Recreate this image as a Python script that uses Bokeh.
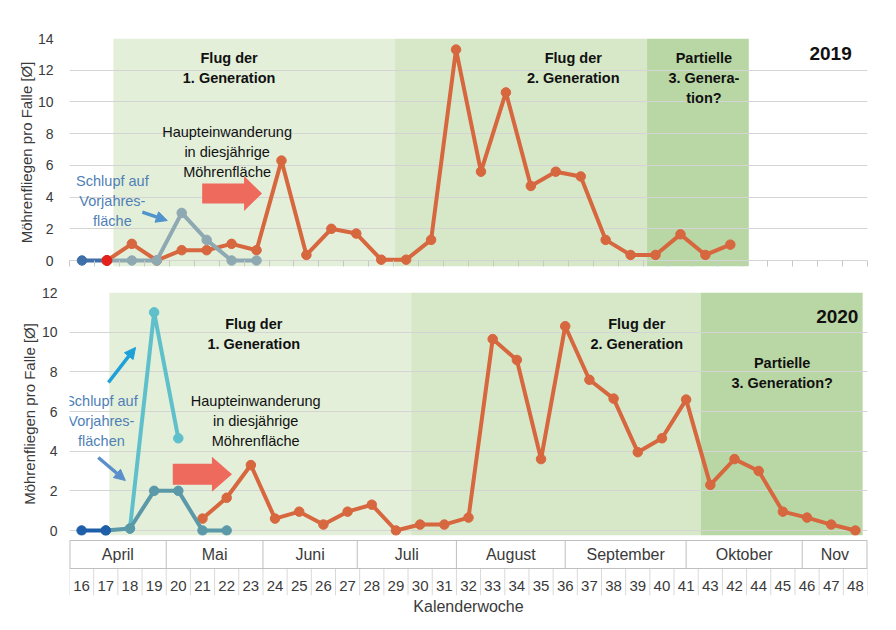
from bokeh.plotting import figure
from bokeh.layouts import column
from bokeh.models import Range1d, FixedTicker, Arrow, NormalHead, Label
from bokeh.embed import file_html
from bokeh.resources import INLINE
from bokeh.core.properties import value

FONT = "Liberation Sans"

# ---------------- data ----------------
week_labels = [str(w) for w in range(16, 42)] + ["43", "42", "44", "45", "46", "47", "48"]
month_names = ["April", "Mai", "Juni", "Juli", "August", "September", "Oktober", "Nov"]
month_edges = [-0.5, 3.5, 7.5, 11.4, 15.5, 20.0, 25.0, 29.8, 32.5]

# 2019 (calendar weeks)
w19_blue = [16, 17]
v19_blue = [0, 0]
w19_grey = [17, 18, 19, 20, 21, 22, 23]
v19_grey = [0, 0, 0, 3.0, 1.3, 0, 0]
w19_orange = list(range(17, 43))
v19_orange = [0, 1.05, 0, 0.65, 0.65, 1.05, 0.65, 6.3, 0.35, 2.0, 1.7, 0.05, 0.05,
              1.3, 13.3, 5.6, 10.6, 4.7, 5.6, 5.3, 1.3, 0.35, 0.35, 1.65, 0.35, 1.0]
w19_red = [17]
v19_red = [0]

# 2020 (week labels as on the axis)
w20_blue = ["16", "17"]
v20_blue = [0, 0]
w20_teal = ["17", "18", "19", "20", "21", "22"]
v20_teal = [0, 0.1, 2.0, 2.0, 0, 0]
w20_cyan = ["18", "19", "20"]
v20_cyan = [0.1, 11.0, 4.65]
w20_orange = week_labels[5:]
v20_orange = [0.6, 1.65, 3.3, 0.6, 0.95, 0.3, 0.95, 1.3, 0, 0.3, 0.3, 0.65, 9.65, 8.6,
              3.6, 10.3, 7.6, 6.65, 3.95, 4.65, 6.6, 2.3, 3.6, 3.0, 0.95, 0.65, 0.3, 0.0]

# flight periods (in category positions)
phases19_left = [1.26, 12.54, 22.66]
phases19_right = [12.54, 22.66, 26.74]
phases20_left = [1.15, 13.63, 25.6]
phases20_right = [13.63, 25.6, 32.3]
phase_colors = ["#e3efd9", "#d6e8c8", "#b9d7a4"]

ORANGE = "#d7673f"
TXT = "#3a3a3a"


def pos19(weeks):
    return [w - 16 for w in weeks]


def pos20(labels):
    return [week_labels.index(l) for l in labels]


def base(width, height, xr, yr, bl, br, bt, bb):
    p = figure(width=width, height=height, x_range=xr, y_range=yr,
               output_backend="svg", toolbar_location=None,
               min_border_left=bl, min_border_right=br,
               min_border_top=bt, min_border_bottom=bb)
    p.outline_line_color = None
    p.xgrid.visible = False
    return p


def style_y(p, ticks, standoff, label_standoff):
    ax = p.yaxis[0]
    ax.ticker = FixedTicker(ticks=ticks)
    ax.axis_line_color = None
    ax.major_tick_line_color = None
    ax.minor_tick_line_color = None
    ax.major_label_text_font = FONT
    ax.major_label_text_font_size = "14px"
    ax.major_label_text_color = TXT
    ax.major_label_standoff = standoff
    ax.axis_label = "Möhrenfliegen pro Falle [Ø]"
    ax.axis_label_text_font = FONT
    ax.axis_label_text_font_size = "15px"
    ax.axis_label_text_font_style = "normal"
    ax.axis_label_text_color = TXT
    ax.axis_label_standoff = label_standoff
    p.ygrid.ticker = FixedTicker(ticks=ticks)
    p.ygrid.grid_line_color = "#d4d4d4"


def series(p, x, y, color):
    p.line(x, y, line_width=4, color=color, line_join="round")
    p.scatter(x, y, size=9.5, color=color)


def texts(p, x, y, t, size="14.5px", style="normal", color="#111111"):
    p.text(x=x, y=y, text=t, text_font=value(FONT), text_font_size=size,
           text_font_style=style, text_color=color, text_align="center",
           text_baseline="middle", text_line_height=1.25)


def block_arrow(p, x0, xh, xt, yc, hs, hh, color):
    xs = [x0, xh, xh, xt, xh, xh, x0]
    ys = [yc - hs, yc - hs, yc - hh, yc, yc + hh, yc + hs, yc + hs]
    p.patch(xs, ys, fill_color=color, line_color=None)


def line_arrow(p, xs, ys, xe, ye, color):
    p.add_layout(Arrow(end=NormalHead(size=11, fill_color=color, line_color=color),
                       x_start=xs, y_start=ys, x_end=xe, y_end=ye,
                       line_color=color, line_width=3.5))


W = 888
BL, BR = 69, 21

# ---------------- 2019 ----------------
p1 = base(W, 280, Range1d(-0.5, 31.5), Range1d(-0.378, 14), BL, BR, 38, 14)
style_y(p1, [0, 2, 4, 6, 8, 10, 12, 14], 10, 0)
p1.quad(left=phases19_left, right=phases19_right, bottom=-0.378, top=14,
        fill_color=phase_colors, line_color=None, level="image")
ax = p1.xaxis[0]
ax.ticker = FixedTicker(ticks=[], minor_ticks=[i - 0.5 for i in range(33)])
ax.axis_line_color = None
ax.minor_tick_in = 6
ax.minor_tick_out = 0
ax.minor_tick_line_color = "#c8c8c8"

series(p1, pos19(w19_blue), v19_blue, "#3f6fa9")
series(p1, pos19(w19_orange), v19_orange, ORANGE)
series(p1, pos19(w19_grey), v19_grey, "#8fa9b3")
p1.scatter(pos19(w19_red), v19_red, size=10, color="#e4201a")

texts(p1, [5.9, 19.7], [12.11, 12.11], ["Flug der\n1. Generation", "Flug der\n2. Generation"], style="bold")
texts(p1, [24.94], [11.54], ["Partielle\n3. Genera-\ntion?"], style="bold")
texts(p1, [5.82], [6.87], ["Haupteinwanderung\nin diesjährige\nMöhrenfläche"])
texts(p1, [1.22], [3.78], ["Schlupf auf\nVorjahres-\nfläche"], color="#4f7fb6")
texts(p1, [30.02], [13.05], ["2019"], size="19px", style="bold")
block_arrow(p1, 4.82, 6.5, 7.22, 4.225, 0.631, 1.104, "#ee6a5c")
line_arrow(p1, 2.42, 3.05, 3.42, 2.52, "#4f94cd")

# ---------------- 2020 ----------------
xr2 = Range1d(-0.5, 32.5)
p2 = base(W, 259, xr2, Range1d(-0.252, 12), BL, BR, 12, 4)
style_y(p2, [0, 2, 4, 6, 8, 10, 12], 6, 1)
p2.xaxis.visible = False
p2.quad(left=phases20_left, right=phases20_right, bottom=-0.252, top=12,
        fill_color=phase_colors, line_color=None, level="image")

series(p2, pos20(w20_orange), v20_orange, ORANGE)
series(p2, pos20(w20_cyan), v20_cyan, "#5fc0cb")
series(p2, pos20(w20_teal), v20_teal, "#5b99a9")
series(p2, pos20(w20_blue), v20_blue, "#1f5ea8")

texts(p2, [7.12, 22.96], [9.93, 9.93], ["Flug der\n1. Generation", "Flug der\n2. Generation"], style="bold")
texts(p2, [28.97], [7.92], ["Partielle\n3. Generation?"], style="bold")
texts(p2, [7.2], [5.5], ["Haupteinwanderung\nin diesjährige\nMöhrenfläche"])
p2.add_layout(Label(x=0.82, y=5.5, text="Schlupf auf\nVorjahres-\nflächen", text_font=FONT,
                    text_font_size="14.5px", text_color="#4f7fb6", text_align="center",
                    text_baseline="middle", text_line_height=1.25))
texts(p2, [31.25], [10.79], ["2020"], size="19px", style="bold")
block_arrow(p2, 3.77, 5.39, 6.22, 2.834, 0.53, 0.88, "#ee6a5c")
line_arrow(p2, 1.11, 7.46, 2.23, 9.23, "#1ea0d8")
line_arrow(p2, 0.69, 3.68, 1.81, 2.52, "#5b8fcc")

# ---------------- month / week table ----------------
# table frame: 56 px tall, weeks row 0..27, months row 27..55
p3 = base(W, 86, xr2, Range1d(0, 56), BL, BR, 0, 30)
p3.ygrid.visible = False
p3.yaxis.visible = False
ax = p3.xaxis[0]
ax.ticker = FixedTicker(ticks=[])
ax.axis_line_color = None
ax.major_tick_out = 0
ax.major_tick_in = 0
ax.minor_tick_out = 0
ax.minor_tick_in = 0
ax.major_label_standoff = 0
ax.axis_label = "Kalenderwoche"
ax.axis_label_text_font = FONT
ax.axis_label_text_font_size = "16px"
ax.axis_label_text_font_style = "normal"
ax.axis_label_text_color = TXT
ax.axis_label_standoff = 2

ROW_SPLIT, ROW_TOP = 27, 55
week_pos = list(range(len(week_labels)))
week_edges = [i - 0.5 for i in range(len(week_labels) + 1)]
p3.segment(x0=week_edges, y0=0, x1=week_edges, y1=ROW_SPLIT, line_color="#d9d9d9", line_width=1)
inner = month_edges[1:-1]
p3.segment(x0=inner, y0=ROW_SPLIT, x1=inner, y1=ROW_TOP, line_color="#bfbfbf", line_width=1)
p3.segment(x0=[month_edges[0], month_edges[-1]], y0=ROW_SPLIT,
           x1=[month_edges[0], month_edges[-1]], y1=ROW_TOP, line_color="#bfbfbf", line_width=2)
p3.segment(x0=[month_edges[0]] * 2, y0=[ROW_SPLIT, ROW_TOP],
           x1=[month_edges[-1]] * 2, y1=[ROW_SPLIT, ROW_TOP], line_color="#bfbfbf", line_width=1)
centers = [(a + b) / 2 for a, b in zip(month_edges[:-1], month_edges[1:])]
p3.text(x=centers, y=[41] * len(centers), text=month_names, text_font=value(FONT),
        text_font_size="16px", text_color=TXT, text_align="center", text_baseline="middle")
p3.text(x=week_pos, y=[10] * len(week_pos), text=week_labels, text_font=value(FONT),
        text_font_size="15px", text_color=TXT, text_align="center", text_baseline="middle")

layout = column(p1, p2, p3, spacing=0)
open("out.html", "w").write(file_html(layout, INLINE))
